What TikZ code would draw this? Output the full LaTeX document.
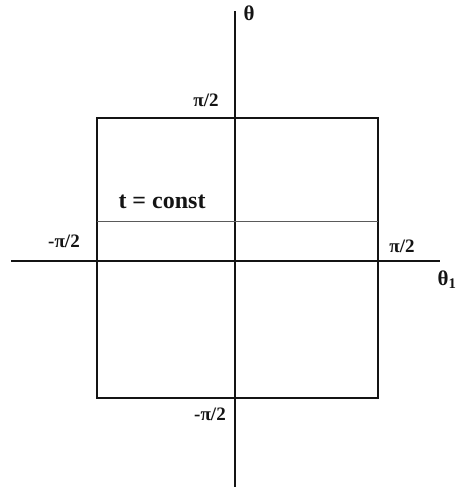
\documentclass[tikz,border=0pt]{standalone}
\usepackage{fontspec}
\setmainfont{Liberation Serif}
\usetikzlibrary{positioning}
\definecolor{ink}{RGB}{20,20,20}
\tikzset{
  axis/.style={draw=ink, line width=1.8pt},
  frame/.style={draw=ink, line width=1.6pt},
  level/.style={draw=ink!70, line width=0.9pt},
  lbl/.style={font=\fontsize{19}{21}\selectfont\bfseries, inner sep=0pt, text=ink},
  biglbl/.style={font=\fontsize{24}{26}\selectfont\bfseries, inner sep=0pt, text=ink},
  ax/.style={font=\fontsize{21}{23}\selectfont\bfseries, inner sep=0pt, text=ink}
}
\begin{document}
\begin{tikzpicture}[x=1pt, y=-1pt]
    \useasboundingbox (0,0) rectangle (457,491);
    % axes
    \coordinate (xl) at (11,261);
    \coordinate (xr) at (440,261);
    \coordinate (yt) at (235,11);
    \coordinate (yb) at (235,487);
    \draw[axis] (xl) -- (xr);
    \draw[axis] (yt) -- (yb);
    % square
    \coordinate (sq1) at (97,118);
    \coordinate (sq2) at (378,398);
    \draw[frame] (sq1) rectangle (sq2);
    % t = const
    \coordinate (tl) at (97,221);
    \coordinate (tr) at (378,221);
    \draw[level] (tl) -- (tr);
    % labels
    \node[ax] (theta) at (249,13) {θ};
    \node[lbl] (ptop) at (206,100) {π/2};
    \node[biglbl] (tc) at (162,202) {t = const};
    \node[lbl] (pleft) at (64,241) {-π/2};
    \node[lbl] (pright) at (402,246) {π/2};
    \node[ax] (theta1) at (447,280) {θ$_{\mathbf{1}}$};
    \node[lbl] (pbot) at (210,414) {-π/2};
  \end{tikzpicture}
\end{document}
